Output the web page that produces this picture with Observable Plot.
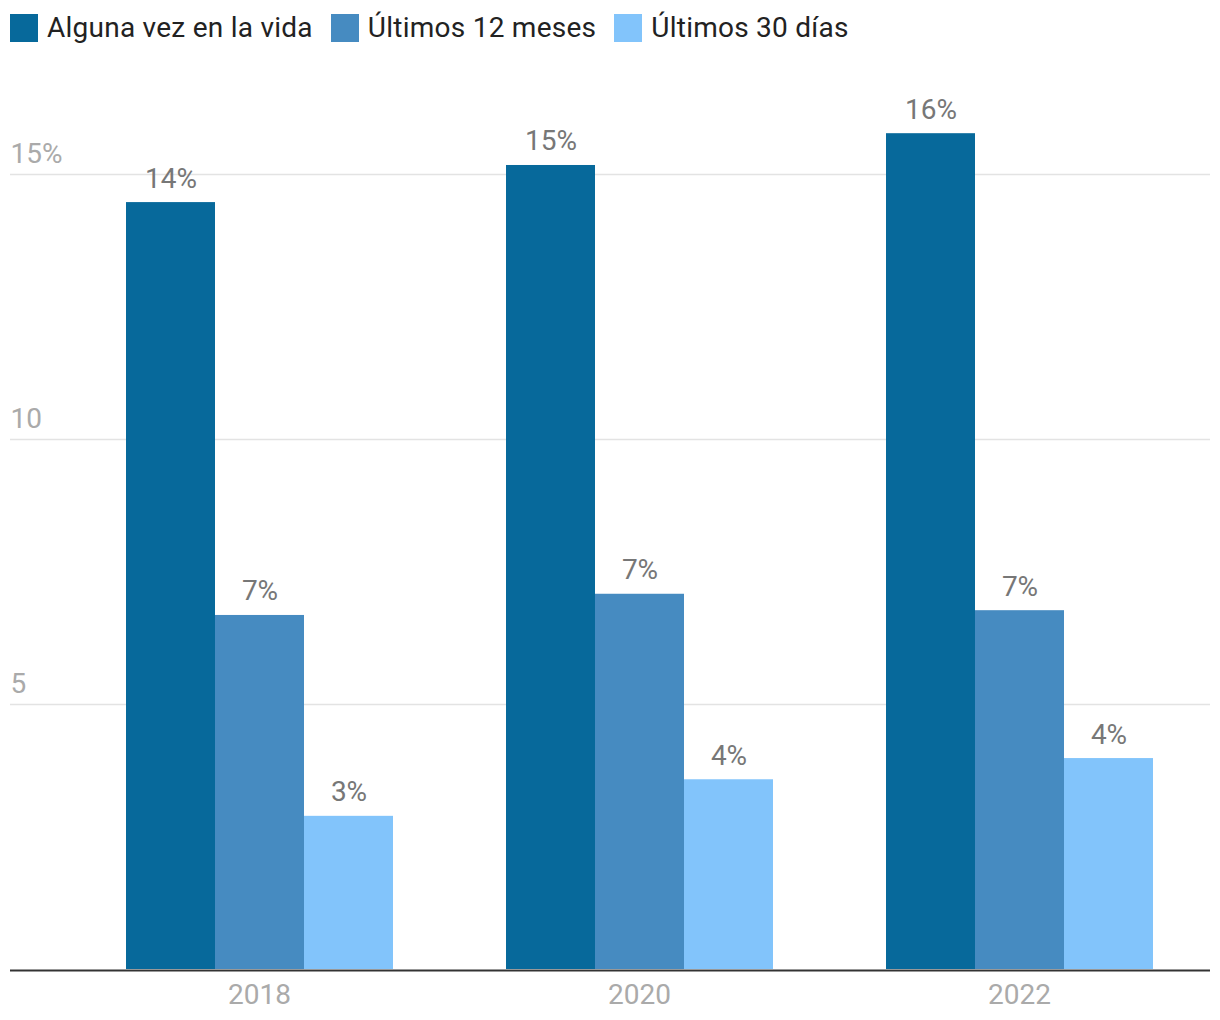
<!DOCTYPE html>
<html>
<head>
<meta charset="utf-8">
<script src="https://cdn.jsdelivr.net/npm/d3@7"></script>
<script src="https://cdn.jsdelivr.net/npm/@observablehq/plot@0.6"></script>
<style>
  body { margin: 0; background: #fff; font-family: Roboto, "Noto Sans", sans-serif; }
  #legend { height: 56px; display: flex; align-items: flex-start; padding-left: 10px; box-sizing: border-box; padding-top: 13px; }
  .item { display: flex; align-items: center; margin-right: 18px; font-size: 28px; color: #222; line-height: 30px; letter-spacing: 0.25px; }
  .sw { width: 28px; height: 28px; margin-right: 9px; flex: none; }
  #chart { position: relative; width: 1220px; height: 964px; }
  #chart svg { position: absolute; left: 0; top: 0; }
</style>
</head>
<body>
<div id="legend"></div>
<div id="chart"></div>
<script>
const years = ["2018", "2020", "2022"];
const series = ["Alguna vez en la vida", "Últimos 12 meses", "Últimos 30 días"];
const colors = ["#07699b", "#468bc1", "#82c4fb"];
const alguna = [14.47, 15.17, 15.77];
const ultimos12 = [6.68, 7.08, 6.77];
const ultimos30 = [2.89, 3.58, 3.98];
const yTicks = [5, 10, 15];

const values = [alguna, ultimos12, ultimos30];
const data = [];
years.forEach((yr, i) => series.forEach((s, j) => data.push({year: yr, series: s, value: values[j][i]})));

// legend
const legend = document.getElementById("legend");
series.forEach((s, j) => {
  const it = document.createElement("div");
  it.className = "item";
  const sw = document.createElement("div");
  sw.className = "sw";
  sw.style.background = colors[j];
  const t = document.createElement("span");
  t.textContent = s;
  it.appendChild(sw); it.appendChild(t);
  legend.appendChild(it);
});

const common = {width: 1220, height: 964, marginTop: 12, marginBottom: 51};
const font = "Roboto, 'Noto Sans', sans-serif";

const grid = Plot.plot({
  ...common,
  marginLeft: 10, marginRight: 10,
  style: {fontFamily: font, fontSize: "28px", background: "white"},
  x: {domain: [0, 1], axis: null},
  y: {domain: [0, 17], axis: null},
  marks: [
    Plot.ruleY(yTicks, {stroke: "#e3e3e3", strokeWidth: 1.5}),
    Plot.text(yTicks, {y: d => d, text: d => d === yTicks[yTicks.length - 1] ? d + "%" : String(d),
      frameAnchor: "left", textAnchor: "start", dy: -20, fill: "#aaa"}),
    Plot.ruleY([0], {stroke: "#333", strokeWidth: 2, dy: 1})
  ]
});

const bars = Plot.plot({
  ...common,
  marginLeft: 69, marginRight: 11,
  style: {fontFamily: font, fontSize: "28px", background: "transparent", color: "#aaa"},
  fx: {domain: years, paddingInner: 0.295, paddingOuter: 0.1475, label: null, tickSize: 0, tickPadding: 15, axis: "bottom"},
  x: {domain: series, padding: 0, axis: null},
  y: {domain: [0, 17], axis: null},
  color: {domain: series, range: colors},
  marks: [
    Plot.barY(data, {fx: "year", x: "series", y: "value", fill: "series"}),
    Plot.text(data, {fx: "year", x: "series", y: "value", text: d => Math.round(d.value) + "%", dy: -24, fill: "#777"})
  ]
});

const chart = document.getElementById("chart");
chart.appendChild(grid);
chart.appendChild(bars);
</script>
</body>
</html>
